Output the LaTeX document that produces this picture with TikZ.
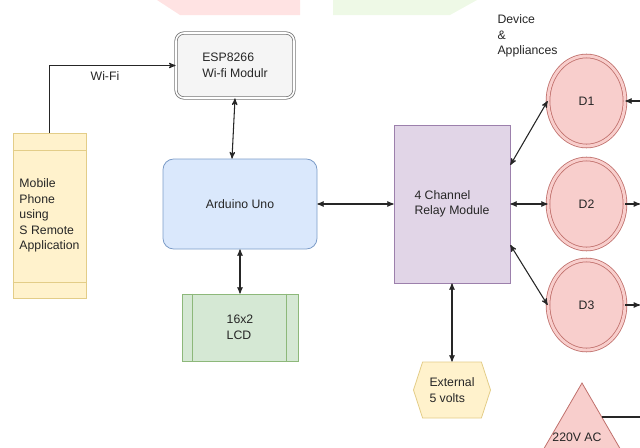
\documentclass[tikz,border=0pt]{standalone}
\usepackage{fontspec}
\setmainfont{Liberation Sans}
\usetikzlibrary{shapes.geometric,shapes.symbols,arrows,positioning}
\definecolor{phonefill}{HTML}{FFF2CC}
\definecolor{phoneline}{HTML}{E3CD88}
\definecolor{espfill}{HTML}{F5F5F5}
\definecolor{espline}{HTML}{777777}
\definecolor{unofill}{HTML}{DAE8FC}
\definecolor{unoline}{HTML}{7C9CC8}
\definecolor{lcdfill}{HTML}{D5E8D4}
\definecolor{lcdline}{HTML}{8DB87A}
\definecolor{relayfill}{HTML}{E1D5E7}
\definecolor{relayline}{HTML}{9C80AC}
\definecolor{devfill}{HTML}{F8CECC}
\definecolor{devline}{HTML}{C0706C}
\definecolor{markpink}{HTML}{FFE3E3}
\definecolor{markgreen}{HTML}{EEF9E6}
\tikzset{every node/.style={font=\fontsize{9.2}{11.7}\selectfont,text=black!85,inner sep=0pt},
         phone box/.style={rectangle,fill=phonefill,draw=phoneline,line width=0.6pt,minimum width=54.75pt,minimum height=123.75pt,align=left},
         wifi box/.style={rectangle,rounded corners=6pt,fill=espfill,draw=espline,line width=0.6pt,double=white,double distance=1.2pt,minimum width=88.5pt,minimum height=48.75pt,align=left},
         board box/.style={rectangle,rounded corners=8pt,fill=unofill,draw=unoline,line width=0.6pt,minimum width=115.5pt,minimum height=67.5pt},
         lcd box/.style={rectangle,fill=lcdfill,draw=lcdline,line width=0.6pt,minimum width=87pt,minimum height=50.25pt,align=left},
         relay box/.style={rectangle,fill=relayfill,draw=relayline,line width=0.6pt,minimum width=87pt,minimum height=118.5pt,align=left},
         device node/.style={ellipse,fill=devfill,draw=devline,line width=0.6pt,double=devfill,double distance=2.2pt,minimum width=57.75pt,minimum height=67.5pt},
         supply node/.style={signal,signal to=west and east,signal pointer angle=144,fill=phonefill,draw=phoneline,line width=0.6pt,minimum width=57.75pt,minimum height=42pt,align=left},
         plain text/.style={rectangle,draw=none,fill=none,align=left},
}
\begin{document}
\begin{tikzpicture}[>=stealth', x=0.75pt, y=-0.75pt, line width=0.8pt, draw=black!85]
\useasboundingbox (0,0) rectangle (640,447);
\clip (0,0) rectangle (640,447);
% faint bands at the top
\fill[markpink] (157,0) -- (300,0) -- (300,15) -- (180,15) -- cycle;
\fill[markgreen] (333,0) -- (477,0) -- (450,15) -- (333,15) -- cycle;

\node[phone box] (phone) at (49.5,215.5) {Mobile\\Phone\\using\\S Remote\\Application};
\draw[phoneline,line width=0.6pt] ([yshift=-13pt]phone.north west) -- ([yshift=-13pt]phone.north east);
\draw[phoneline,line width=0.6pt] ([yshift=12pt]phone.south west) -- ([yshift=12pt]phone.south east);
\node[wifi box] (esp) at (235,65.5) {ESP8266\\Wi-fi Modulr};
\node[board box] (uno) at (240,204) {Arduino Uno};
\node[lcd box] (lcd) at (240,327.5) {16x2\\LCD};
\draw[lcdline,line width=0.6pt] ([xshift=8.25pt]lcd.north west) -- ([xshift=8.25pt]lcd.south west);
\draw[lcdline,line width=0.6pt] ([xshift=-9pt]lcd.north east) -- ([xshift=-9pt]lcd.south east);
\node[relay box] (relay) at (452,204) {4 Channel\\Relay Module};
\node[device node] (d1) at (586.5,101) {D1};
\node[device node] (d2) at (586.5,204) {D2};
\node[device node] (d3) at (586.5,305) {D3};
\node[supply node] (ext) at (452,390) {External\\5 volts};
\node[plain text,anchor=north west] (dev) at (497,14) {Device\\\&\\Appliances};
% mains triangle, cut by the lower edge
\draw[fill=devfill,draw=devline,line width=0.6pt] (582,383) -- (640,483) -- (524,483) -- cycle;
\node[plain text] (ac) at (577,437) {220V AC};
\coordinate (acside) at (601.7,417);
\coordinate (acend) at (640,417);
\coordinate (in1) at (640,101);
\coordinate (out2) at (640,204);
\coordinate (out3) at (640,305);

\draw[->] (phone.north) |- node[plain text,pos=0.72,below=4pt] (wifi) {Wi-Fi} (esp.west);
\draw[<->] (esp.south) -- ([xshift=-6pt]uno.north);
\draw[<->] (uno.south) -- (lcd.north);
\draw[<->] (uno.east) -- (relay.west);
\draw[<->] ([yshift=29.25pt]relay.east) -- (d1.west);
\draw[<->] (relay.east) -- (d2.west);
\draw[<->] ([yshift=-30.75pt]relay.east) -- (d3.west);
\draw[<->] (relay.south) -- (ext.north);
\draw[->] (in1) -- (d1.east);
\draw[->] (d2.east) -- (out2);
\draw[->] (d3.east) -- (out3);
\draw (acside) -- (acend);
\end{tikzpicture}
\end{document}
